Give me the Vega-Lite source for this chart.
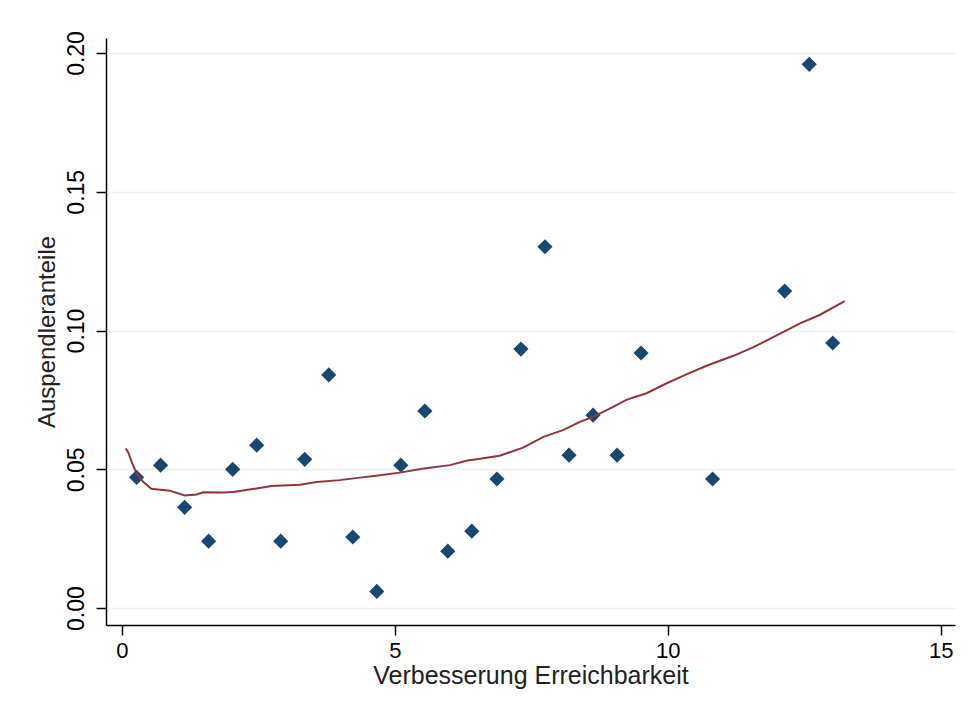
{
  "$schema": "https://vega.github.io/schema/vega-lite/v6.json",
  "width": 849,
  "height": 587,
  "autosize": {"type": "none"},
  "padding": {"left": 106, "top": 38, "right": 13, "bottom": 85},
  "background": "white",
  "config": {
    "view": {"stroke": null},
    "font": "Liberation Sans",
    "axis": {
      "domainColor": "black",
      "domainWidth": 1.5,
      "tickColor": "black",
      "tickWidth": 1.5,
      "tickSize": 10,
      "labelColor": "black",
      "titleColor": "#222",
      "labelFont": "Liberation Sans",
      "titleFont": "Liberation Sans",
      "titleFontWeight": "normal",
      "gridColor": "#eaf2f3",
      "gridWidth": 1.5
    }
  },
  "datasets": {
    "points": [
      {"x": 0.27, "y": 0.0471},
      {"x": 0.71, "y": 0.0515},
      {"x": 1.15, "y": 0.0363},
      {"x": 1.59, "y": 0.0241},
      {"x": 2.03, "y": 0.0500},
      {"x": 2.47, "y": 0.0587},
      {"x": 2.91, "y": 0.0241},
      {"x": 3.35, "y": 0.0536},
      {"x": 3.79, "y": 0.0840},
      {"x": 4.23, "y": 0.0256},
      {"x": 4.67, "y": 0.0060},
      {"x": 5.11, "y": 0.0515},
      {"x": 5.55, "y": 0.0710},
      {"x": 5.97, "y": 0.0205},
      {"x": 6.41, "y": 0.0277},
      {"x": 6.87, "y": 0.0465},
      {"x": 7.31, "y": 0.0933},
      {"x": 7.75, "y": 0.1302},
      {"x": 8.19, "y": 0.0551},
      {"x": 8.63, "y": 0.0695},
      {"x": 9.07, "y": 0.0551},
      {"x": 9.51, "y": 0.0919},
      {"x": 10.82, "y": 0.0465},
      {"x": 12.14, "y": 0.1142},
      {"x": 12.59, "y": 0.1959},
      {"x": 13.02, "y": 0.0955}
    ],
    "lowess": [
      {"x": 0.07, "y": 0.0575},
      {"x": 0.12, "y": 0.0560},
      {"x": 0.18, "y": 0.0527},
      {"x": 0.27, "y": 0.0485},
      {"x": 0.39, "y": 0.0455},
      {"x": 0.54, "y": 0.0430},
      {"x": 0.88, "y": 0.0423},
      {"x": 1.15, "y": 0.0406},
      {"x": 1.37, "y": 0.0409},
      {"x": 1.49, "y": 0.0417},
      {"x": 1.86, "y": 0.0416},
      {"x": 2.04, "y": 0.0418},
      {"x": 2.22, "y": 0.0424},
      {"x": 2.47, "y": 0.0431},
      {"x": 2.74, "y": 0.0440},
      {"x": 3.26, "y": 0.0444},
      {"x": 3.57, "y": 0.0454},
      {"x": 3.99, "y": 0.0461},
      {"x": 4.36, "y": 0.0470},
      {"x": 4.66, "y": 0.0477},
      {"x": 5.09, "y": 0.0488},
      {"x": 5.50, "y": 0.0502},
      {"x": 6.01, "y": 0.0515},
      {"x": 6.31, "y": 0.0531},
      {"x": 6.56, "y": 0.0538},
      {"x": 6.92, "y": 0.0549},
      {"x": 7.35, "y": 0.0578},
      {"x": 7.72, "y": 0.0617},
      {"x": 8.08, "y": 0.0641},
      {"x": 8.39, "y": 0.0671},
      {"x": 8.63, "y": 0.0689},
      {"x": 9.00, "y": 0.0725},
      {"x": 9.24, "y": 0.0750},
      {"x": 9.61, "y": 0.0774},
      {"x": 9.98, "y": 0.0810},
      {"x": 10.34, "y": 0.0842},
      {"x": 10.71, "y": 0.0873},
      {"x": 11.19, "y": 0.0908},
      {"x": 11.56, "y": 0.0939},
      {"x": 12.11, "y": 0.0994},
      {"x": 12.42, "y": 0.1026},
      {"x": 12.78, "y": 0.1056},
      {"x": 13.24, "y": 0.1106}
    ]
  },
  "encoding": {
    "x": {
      "field": "x",
      "type": "quantitative",
      "scale": {"domain": [-0.29, 15.26], "nice": false, "zero": false},
      "axis": {
        "values": [0, 5, 10, 15],
        "grid": false,
        "title": "Verbesserung Erreichbarkeit",
        "titleFontSize": 25,
        "titlePadding": 2,
        "labelFontSize": 22,
        "labelPadding": 5,
        "format": "d"
      }
    },
    "y": {
      "field": "y",
      "type": "quantitative",
      "scale": {"domain": [-0.0061, 0.2054], "nice": false, "zero": false},
      "axis": {
        "values": [0, 0.05, 0.1, 0.15, 0.2],
        "format": ".2f",
        "grid": true,
        "title": "Auspendleranteile",
        "titleFontSize": 24,
        "titlePadding": 6,
        "labelAngle": -90,
        "labelAlign": "center",
        "labelBaseline": "bottom",
        "labelFontSize": 23,
        "labelPadding": 8
      }
    }
  },
  "layer": [
    {
      "data": {"name": "points"},
      "mark": {"type": "point", "shape": "diamond", "filled": true, "size": 230, "color": "#1a476f", "opacity": 1}
    },
    {
      "data": {"name": "lowess"},
      "mark": {"type": "line", "color": "#90353b", "strokeWidth": 2}
    }
  ]
}
